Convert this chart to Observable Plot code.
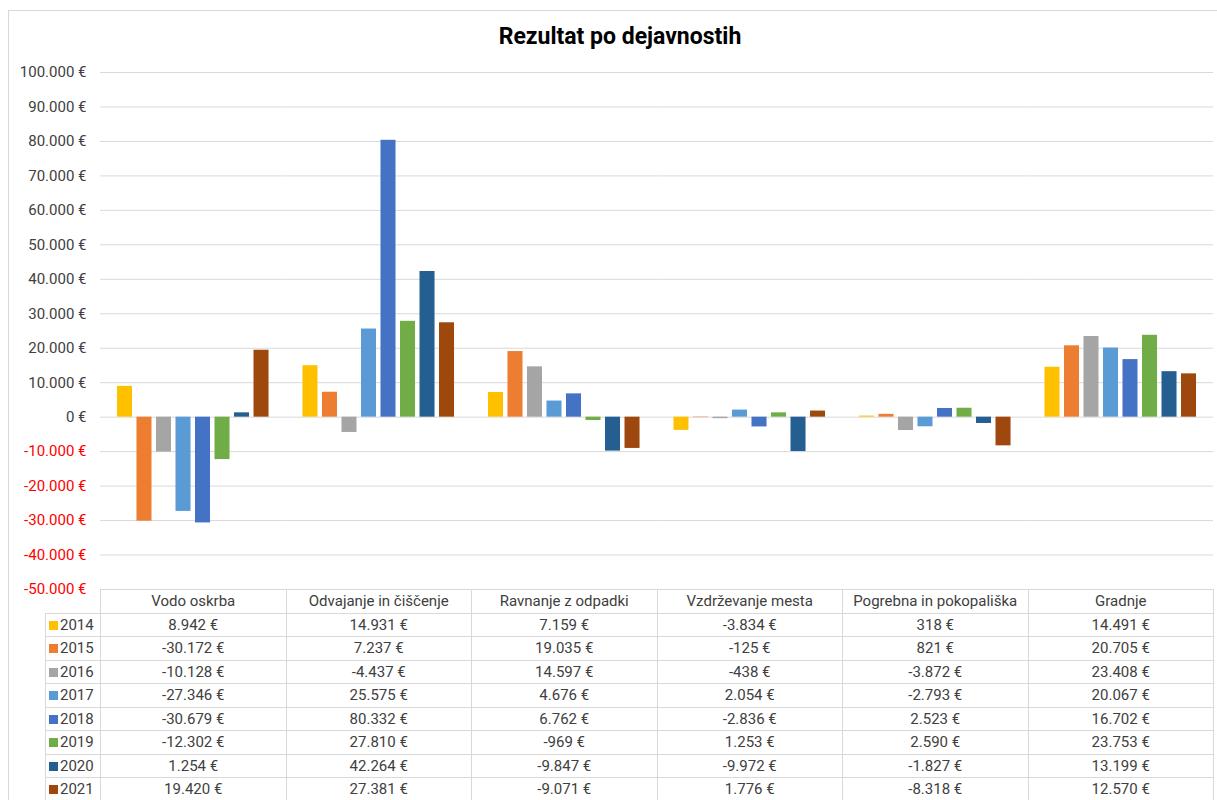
<!DOCTYPE html>
<html>
<head>
<meta charset="utf-8">
<script src="https://cdn.jsdelivr.net/npm/d3@7"></script>
<script src="https://cdn.jsdelivr.net/npm/@observablehq/plot@0.6"></script>
<style>
  html, body { margin: 0; padding: 0; background: #fff; }
  body { width: 1217px; height: 800px; position: relative; overflow: hidden; font-family: Roboto, "Noto Sans", sans-serif; color: #404040; }
  #frame { position: absolute; left: 8px; top: 10px; width: 1240px; height: 820px; border: 1px solid #d9d9d9; box-sizing: border-box; }
  #title { position: absolute; left: 0; width: 1240px; top: 23px; text-align: center; font-size: 23px; font-weight: bold; color: #000; }
  #chart { position: absolute; left: 0; top: 50px; }
  #tbl { position: absolute; left: 45px; top: 589px; border-collapse: collapse; font-size: 15px; color: #404040; table-layout: fixed; }
  #tbl td { border: 1px solid #d9d9d9; height: 22.5px; padding: 0; text-align: center; white-space: nowrap; }
  #tbl td.blank { border: none; border-right: 1px solid #d9d9d9; border-bottom: 1px solid #d9d9d9; }
  #tbl td.leg { text-align: left; padding-left: 3px; }
  .sw { display: inline-block; width: 9px; height: 9px; margin-right: 2px; vertical-align: 0px; }
</style>
</head>
<body>
<div id="frame"></div>
<div id="title">Rezultat po dejavnostih</div>
<div id="chart"></div>
<table id="tbl"></table>
<script>
const categories = ["Vodo oskrba", "Odvajanje in čiščenje", "Ravnanje z odpadki", "Vzdrževanje mesta", "Pogrebna in pokopališka", "Gradnje"];
const years = ["2014", "2015", "2016", "2017", "2018", "2019", "2020", "2021"];
const colors = ["#FFC000", "#ED7D31", "#A5A5A5", "#5B9BD5", "#4472C4", "#70AD47", "#255E91", "#9E480E"];
const v2014 = [8942, 14931, 7159, -3834, 318, 14491];
const v2015 = [-30172, 7237, 19035, -125, 821, 20705];
const v2016 = [-10128, -4437, 14597, -438, -3872, 23408];
const v2017 = [-27346, 25575, 4676, 2054, -2793, 20067];
const v2018 = [-30679, 80332, 6762, -2836, 2523, 16702];
const v2019 = [-12302, 27810, -969, 1253, 2590, 23753];
const v2020 = [1254, 42264, -9847, -9972, -1827, 13199];
const v2021 = [19420, 27381, -9071, 1776, -8318, 12570];
const yTicks = [-50000, -40000, -30000, -20000, -10000, 0, 10000, 20000, 30000, 40000, 50000, 60000, 70000, 80000, 90000, 100000];

const series = [v2014, v2015, v2016, v2017, v2018, v2019, v2020, v2021];
const rows = [];
years.forEach((yr, i) => categories.forEach((c, j) => rows.push({year: yr, category: c, value: series[i][j]})));

const loc = d3.formatLocale({decimal: ",", thousands: ".", grouping: [3], currency: ["", " €"], minus: "-"});
const fmt = loc.format("$,.0f");

const plot = Plot.plot({
  width: 1217,
  height: 560,
  marginLeft: 100,
  marginRight: 4,
  marginTop: 22,
  marginBottom: 21,
  style: {fontFamily: "Roboto, 'Noto Sans', sans-serif", fontSize: "15px", background: "transparent", overflow: "visible"},
  fx: {domain: categories, padding: 0, axis: null, round: false},
  x: {domain: years, paddingInner: 0.23, paddingOuter: 0.87, axis: null, round: false},
  y: {domain: [-50000, 100000], axis: null},
  color: {domain: years, range: colors},
  marks: [
    Plot.ruleY(yTicks, {stroke: "#d9d9d9", strokeWidth: 1}),
    Plot.barY(rows, {fx: "category", x: "year", y: "value", fill: "year"}),
    Plot.text(yTicks, {y: d => d, text: d => fmt(d), frameAnchor: "left", textAnchor: "end", dx: -14, facetAnchor: "left", fill: d => d < 0 ? "#FF0000" : "#404040", fontSize: 15})
  ]
});
document.getElementById("chart").appendChild(plot);

// data table
const tbl = document.getElementById("tbl");
const colW = [55, 185.5, 185.5, 185.5, 185.5, 185.5, 185.5];
const cg = document.createElement("colgroup");
colW.forEach(w => { const c = document.createElement("col"); c.style.width = w + "px"; cg.appendChild(c); });
tbl.appendChild(cg);
const hr = document.createElement("tr");
const blank = document.createElement("td"); blank.className = "blank"; hr.appendChild(blank);
categories.forEach(c => { const td = document.createElement("td"); td.textContent = c; hr.appendChild(td); });
tbl.appendChild(hr);
years.forEach((yr, i) => {
  const tr = document.createElement("tr");
  const lg = document.createElement("td"); lg.className = "leg";
  const sw = document.createElement("span"); sw.className = "sw"; sw.style.background = colors[i];
  lg.appendChild(sw); lg.appendChild(document.createTextNode(yr));
  tr.appendChild(lg);
  series[i].forEach(v => { const td = document.createElement("td"); td.textContent = fmt(v); tr.appendChild(td); });
  tbl.appendChild(tr);
});
</script>
</body>
</html>
